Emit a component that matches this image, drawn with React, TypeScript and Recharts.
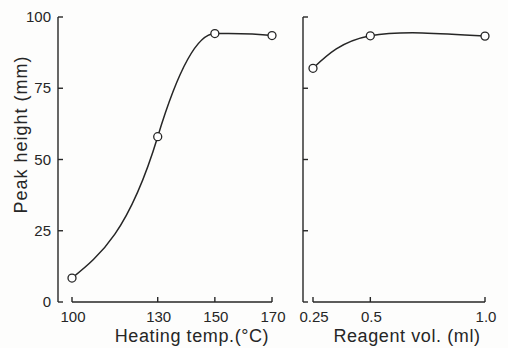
import * as React from "react";
import { LineChart, Line, XAxis, YAxis, ReferenceLine, Label } from "recharts";

// heating temperature panel
const tempCategories = [100, 130, 150, 170];
const tempPeak = [8.4, 58, 94.2, 93.5];
// slope of the drawn curve at each point (mm per °C)
const tempSlope = [0.8, 3.3, 0.02, -0.12];
const tempTicks = [100, 130, 150, 170];

// reagent volume panel
const volCategories = [0.25, 0.5, 1.0];
const volPeak = [82, 93.4, 93.3];
const volTicks = [0.25, 0.5, 1.0];
const volTickLabels = ["0.25", "0.5", "1.0"];

const peakTicks = [0, 25, 50, 75, 100];

const INK = "#262626";
const FONT = "'Liberation Sans', Arial, sans-serif";

const tempData = tempCategories.map((t, i) => ({ x: t, y: tempPeak[i] }));
const volData = volCategories.map((v, i) => ({ x: v, y: volPeak[i] }));

// cubic hermite curve factory: goes through the scaled points with the given slopes
function hermiteCurve(xs: number[], ys: number[], slopes: number[]) {
  return (context: any) => {
    let pts: [number, number][] = [];
    return {
      areaStart() {},
      areaEnd() {},
      lineStart() {
        pts = [];
      },
      point(x: number, y: number) {
        pts.push([+x, +y]);
      },
      lineEnd() {
        if (!pts.length) return;
        const n = pts.length;
        const kx = (pts[n - 1][0] - pts[0][0]) / (xs[n - 1] - xs[0]);
        let j = 1;
        for (let i = 1; i < n; i++) {
          if (Math.abs(ys[i] - ys[0]) > Math.abs(ys[j] - ys[0])) j = i;
        }
        const ky = (pts[j][1] - pts[0][1]) / (ys[j] - ys[0]);
        const m = slopes.map((s) => (s * ky) / kx);
        context.moveTo(pts[0][0], pts[0][1]);
        for (let i = 0; i < n - 1; i++) {
          const [x0, y0] = pts[i];
          const [x1, y1] = pts[i + 1];
          const h = (x1 - x0) / 3;
          context.bezierCurveTo(x0 + h, y0 + m[i] * h, x1 - h, y1 - m[i + 1] * h, x1, y1);
        }
      },
    };
  };
}

const tempCurve = hermiteCurve(tempCategories, tempPeak, tempSlope);

function XTick(props: any) {
  const { x, y, payload, labels, ticks } = props;
  const idx = ticks.indexOf(payload.value);
  const text = labels ? labels[idx] : String(payload.value);
  return (
    <g>
      <line x1={x} x2={x} y1={y} y2={y - 5} stroke={INK} strokeWidth={1.4} />
      <text
        x={x + 1}
        y={y + 20}
        textAnchor="middle"
        fontSize={15}
        fontFamily={FONT}
        fill={INK}
      >
        {text}
      </text>
    </g>
  );
}

function YTick(props: any) {
  const { x, y, payload, showLabel } = props;
  return (
    <g>
      <line x1={x} x2={x + 5} y1={y} y2={y} stroke={INK} strokeWidth={1.4} />
      {showLabel && (
        <text
          x={x - 7}
          y={y + 5}
          textAnchor="end"
          fontSize={15}
          fontFamily={FONT}
          fill={INK}
        >
          {payload.value}
        </text>
      )}
    </g>
  );
}

function Dot(props: any) {
  const { cx, cy } = props;
  return <circle cx={cx} cy={cy} r={4} fill="#fff" stroke={INK} strokeWidth={1.3} />;
}

export default function App() {
  return (
    <div
      style={{
        position: "absolute",
        left: 0,
        top: 0,
        width: 508,
        height: 348,
        background: "#fdfdfc",
      }}
    >
      <div style={{ position: "absolute", left: 0, top: 0 }}>
        <LineChart
          width={290}
          height={348}
          data={tempData}
          margin={{ top: 17, right: 18, bottom: 0, left: 8 }}
        >
          <XAxis
            dataKey="x"
            type="number"
            domain={[100, 170]}
            ticks={tempTicks}
            padding={{ left: 14, right: 0 }}
            height={46}
            axisLine={false}
            tickLine={false}
            tickSize={0}
            tickMargin={0}
            tick={<XTick ticks={tempTicks} />}
          >
            <Label
              value="Heating temp.(°C)"
              position="insideBottom"
              offset={6}
              dx={27}
              fontSize={18}
              fontFamily={FONT}
              fill={INK}
              letterSpacing={0.6}
            />
          </XAxis>
          <YAxis
            type="number"
            domain={[0, 100]}
            ticks={peakTicks}
            width={50}
            axisLine={{ stroke: INK, strokeWidth: 1.4 }}
            tickLine={false}
            tickSize={0}
            tickMargin={0}
            tick={<YTick showLabel />}
          >
            <Label
              value="Peak height (mm)"
              angle={-90}
              position="center"
              dx={-12}
              dy={-25}
              fontSize={18}
              fontFamily={FONT}
              fill={INK}
              letterSpacing={1}
            />
          </YAxis>
          <ReferenceLine
            segment={[
              { x: tempTicks[0], y: 0 },
              { x: tempTicks[tempTicks.length - 1], y: 0 },
            ]}
            stroke={INK}
            strokeWidth={1.4}
          />
          <Line
            type={tempCurve as any}
            dataKey="y"
            stroke={INK}
            strokeWidth={1.5}
            dot={<Dot />}
            isAnimationActive={false}
          />
        </LineChart>
      </div>
      <div style={{ position: "absolute", left: 290, top: 0 }}>
        <LineChart
          width={218}
          height={348}
          data={volData}
          margin={{ top: 17, right: 23, bottom: 0, left: 8 }}
        >
          <XAxis
            dataKey="x"
            type="number"
            domain={[0.25, 1.0]}
            ticks={volTicks}
            padding={{ left: 10, right: 0 }}
            height={46}
            axisLine={false}
            tickLine={false}
            tickSize={0}
            tickMargin={0}
            tick={<XTick ticks={volTicks} labels={volTickLabels} />}
          >
            <Label
              value="Reagent vol. (ml)"
              position="insideBottom"
              offset={6}
              dx={13}
              fontSize={18}
              fontFamily={FONT}
              fill={INK}
              letterSpacing={0.6}
            />
          </XAxis>
          <YAxis
            type="number"
            domain={[0, 100]}
            ticks={peakTicks}
            width={5}
            axisLine={{ stroke: INK, strokeWidth: 1.4 }}
            tickLine={false}
            tickSize={0}
            tickMargin={0}
            tick={<YTick showLabel={false} />}
          />
          <ReferenceLine
            segment={[
              { x: volTicks[0], y: 0 },
              { x: volTicks[volTicks.length - 1], y: 0 },
            ]}
            stroke={INK}
            strokeWidth={1.4}
          />
          <Line
            type="natural"
            dataKey="y"
            stroke={INK}
            strokeWidth={1.5}
            dot={<Dot />}
            isAnimationActive={false}
          />
        </LineChart>
      </div>
    </div>
  );
}
